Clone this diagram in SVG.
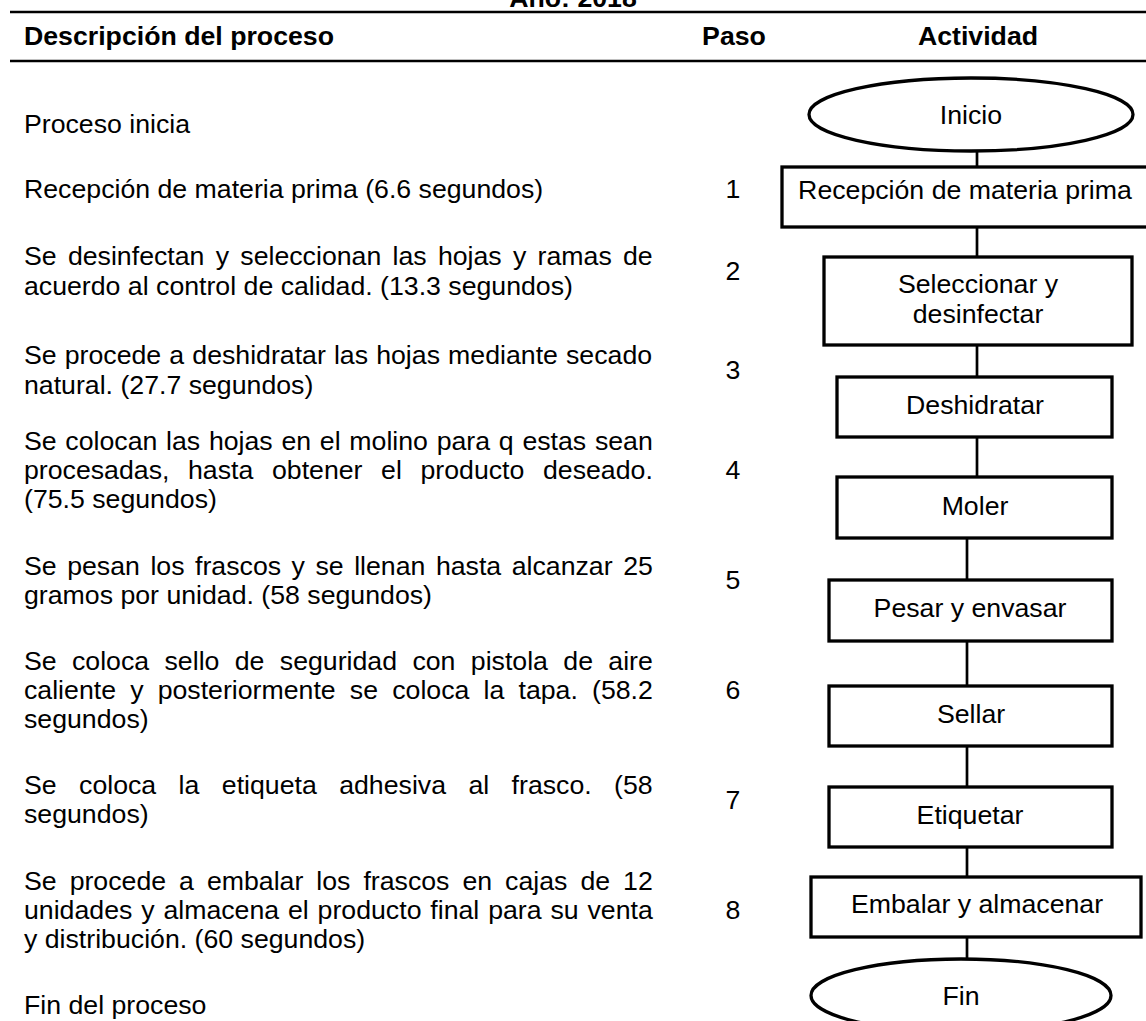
<svg xmlns="http://www.w3.org/2000/svg" width="1146" height="1021" viewBox="0 0 1146 1021">
<style>
text{font-family:"Liberation Sans",Arial,sans-serif;fill:#000;font-size:26.7px}
.h{font-weight:bold}
.c{text-anchor:middle}
.shape{fill:#fff;stroke:#000;stroke-width:3.3}
.rule{stroke:#000;stroke-width:2.7}
.conn line{stroke:#000;stroke-width:2.7}
</style>
<rect width="1146" height="1021" fill="#fff"/>
<text class="h c" x="573" y="7">Año: 2018</text>
<line class="rule" x1="10" y1="12" x2="1146" y2="12"/>
<text class="h" x="24" y="45">Descripción del proceso</text>
<text class="h c" x="734" y="45">Paso</text>
<text class="h c" x="978" y="45">Actividad</text>
<line class="rule" x1="10" y1="61" x2="1146" y2="61"/>
<g id="descripcion">
<text x="24" y="133">Proceso inicia</text>
<text x="24" y="198">Recepción de materia prima (6.6 segundos)</text>
<text x="24" y="265" word-spacing="3.86">Se desinfectan y seleccionan las hojas y ramas de</text>
<text x="24" y="295">acuerdo al control de calidad. (13.3 segundos)</text>
<text x="24" y="364" word-spacing="0.71">Se procede a deshidratar las hojas mediante secado</text>
<text x="24" y="394">natural. (27.7 segundos)</text>
<text x="24" y="450" word-spacing="1.31">Se colocan las hojas en el molino para q estas sean</text>
<text x="24" y="479" word-spacing="11.22">procesadas, hasta obtener el producto deseado.</text>
<text x="24" y="508">(75.5 segundos)</text>
<text x="24" y="575" word-spacing="3.11">Se pesan los frascos y se llenan hasta alcanzar 25</text>
<text x="24" y="604">gramos por unidad. (58 segundos)</text>
<text x="24" y="670" word-spacing="7.95">Se coloca sello de seguridad con pistola de aire</text>
<text x="24" y="699" word-spacing="6.76">caliente y posteriormente se coloca la tapa. (58.2</text>
<text x="24" y="728">segundos)</text>
<text x="24" y="794" word-spacing="15.0">Se coloca la etiqueta adhesiva al frasco. (58</text>
<text x="24" y="823">segundos)</text>
<text x="24" y="890" word-spacing="5.58">Se procede a embalar los frascos en cajas de 12</text>
<text x="24" y="919" word-spacing="1.45">unidades y almacena el producto final para su venta</text>
<text x="24" y="948">y distribución. (60 segundos)</text>
<text x="24" y="1014">Fin del proceso</text>
</g>
<g id="pasos" class="c">
<text x="733" y="198">1</text>
<text x="733" y="280">2</text>
<text x="733" y="379">3</text>
<text x="733" y="479">4</text>
<text x="733" y="589">5</text>
<text x="733" y="699">6</text>
<text x="733" y="809">7</text>
<text x="733" y="919">8</text>
</g>
<g id="connectors" class="conn">
<line x1="977" y1="151" x2="977" y2="167"/>
<line x1="977" y1="227" x2="977" y2="257"/>
<line x1="977" y1="345" x2="977" y2="377"/>
<line x1="977" y1="437" x2="977" y2="477"/>
<line x1="967" y1="538" x2="967" y2="580"/>
<line x1="967" y1="641" x2="967" y2="686"/>
<line x1="967" y1="746" x2="967" y2="787"/>
<line x1="967" y1="847" x2="967" y2="877"/>
<line x1="967" y1="937" x2="967" y2="959"/>
</g>
<g id="inicio"><ellipse class="shape" cx="971" cy="114.5" rx="162" ry="36.5"/><text class="c" x="971" y="124">Inicio</text></g>
<g id="n1"><rect class="shape" x="782" y="167" width="366" height="60"/><text class="c" x="965" y="199">Recepción de materia prima</text></g>
<g id="n2"><rect class="shape" x="824" y="257" width="308" height="88"/><text class="c" x="978" y="293">Seleccionar y</text><text class="c" x="978" y="323">desinfectar</text></g>
<g id="n3"><rect class="shape" x="837" y="377" width="275" height="60"/><text class="c" x="975" y="414">Deshidratar</text></g>
<g id="n4"><rect class="shape" x="837" y="477" width="275" height="61"/><text class="c" x="975" y="515">Moler</text></g>
<g id="n5"><rect class="shape" x="829" y="580" width="283" height="61"/><text class="c" x="970" y="617">Pesar y envasar</text></g>
<g id="n6"><rect class="shape" x="829" y="686" width="283" height="60"/><text class="c" x="971" y="723">Sellar</text></g>
<g id="n7"><rect class="shape" x="829" y="787" width="283" height="60"/><text class="c" x="970" y="824">Etiquetar</text></g>
<g id="n8"><rect class="shape" x="811" y="877" width="330" height="60"/><text class="c" x="977" y="913">Embalar y almacenar</text></g>
<g id="fin"><ellipse class="shape" cx="961" cy="995.5" rx="150" ry="36.5"/><text class="c" x="961" y="1005">Fin</text></g>
</svg>
